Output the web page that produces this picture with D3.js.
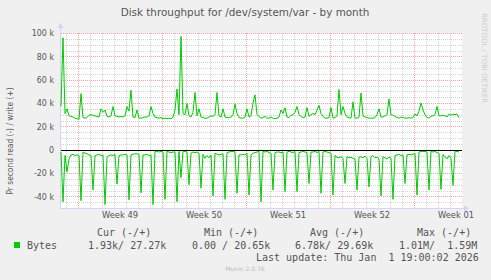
<!DOCTYPE html>
<html>
<head>
<meta charset="utf-8">
<script src="https://cdn.jsdelivr.net/npm/d3@7"></script>
<style>
body { margin: 0; background: #f0f0f0; }
svg { display: block; }
text { font-family: "DejaVu Sans", sans-serif; fill: #555; }
.mono { font-family: "DejaVu Sans Mono", monospace; font-size: 10px; white-space: pre; }
</style>
</head>
<body>
<svg id="chart" width="491" height="280"></svg>
<script>
const title = "Disk throughput for /dev/system/var - by month"
const yLabel = "Pr second read (-) / write (+)"

// one value every 4 hours, in k (bytes per second / 1000)
const startTime = new Date(Date.UTC(2025, 10, 29, 14))
const endTime = new Date(Date.UTC(2026, 0, 1, 22))
const stepHours = 4

const writeK = [
    37, 96, 31, 35, 29, 28.5, 28, 27, 26.5, 26,
    48, 27.5, 27, 27.5, 29.5, 30, 29.5, 29, 28.5, 28,
    35, 32, 34, 28.5, 28, 29, 37, 29, 28.5, 28,
    28.5, 28, 29, 37, 33, 51, 28, 27.5, 34, 27,
    27, 27.5, 28, 28, 29, 37, 31, 28, 27.5, 27,
    27.5, 26.5, 27, 26.5, 27, 26.5, 28, 34, 52, 30,
    97, 31, 30, 39.5, 29, 28, 32, 49, 29, 35,
    28, 27.5, 27, 27, 28, 29, 28.5, 30, 49, 29,
    28, 35, 28, 27.5, 27.5, 28, 30, 39, 31, 27.5,
    27, 27, 28, 35, 28, 29, 40, 47, 30, 28.5,
    27, 27.5, 28.5, 27, 27, 28, 27, 26.5, 27, 28,
    34, 31, 36, 28, 27.5, 29.5, 30, 32, 37, 30,
    28.5, 27.5, 28, 36, 28.5, 30, 31, 30, 34, 38,
    31, 28.5, 27, 27, 27.5, 36, 27, 27.5, 29, 51.5,
    30, 37, 31, 28, 27.5, 27, 41, 27, 27, 28,
    48.5, 29, 28, 27.5, 27, 27, 27, 27.5, 30, 35,
    28, 28, 29, 30, 43.5, 30, 29.5, 28.5, 27.5, 27,
    28, 27.5, 27, 27, 27.5, 27, 27.5, 30.5, 29, 33,
    40, 34, 30, 27.5, 27, 28.5, 29, 30, 37, 29,
    29, 29.5, 29, 28, 30.5, 29.5, 30.5, 30, 30.5, 27.3
]

const readK = [
    2, 44.6, 5, 19, 8, 4.5, 4, 5, 4.5, 5,
    43.7, 2, 3, 3.5, 4.5, 5, 34.6, 5, 4.5, 4,
    5, 4.5, 47, 6.5, 5, 4.5, 5, 4, 29.5, 5,
    4.5, 4.5, 4, 4.5, 43, 4.5, 4, 3.5, 3.5, 4,
    37, 4.5, 4.5, 4, 5, 4.5, 47, 1.5, 1.5, 2,
    1.5, 2, 42.6, 1.5, 2, 2.5, 2, 2, 44.6, 1.5,
    24, 1.5, 1.5, 2, 30, 3, 2, 2.5, 2, 3,
    33, 4, 7.5, 5, 7, 4.5, 39.6, 3, 4, 4.5,
    4, 3.5, 42.6, 2.5, 2, 1.5, 1.5, 2, 37.4, 4.5,
    4.5, 4, 4.5, 3, 38.9, 4.5, 3, 2.5, 2, 1.5,
    44.6, 1.5, 2, 1.5, 2.5, 3, 34.6, 2.5, 2, 2,
    2.5, 2, 36, 2, 1.5, 2, 2.5, 1.5, 36, 2.5,
    2, 1.5, 2, 2.5, 29, 2, 2, 1.5, 2.5, 1.5,
    37.4, 2, 1.5, 2, 2.5, 3, 38.9, 5, 6.5, 7,
    6, 7.5, 29, 6, 7, 6.5, 7.5, 8, 34.6, 6.5,
    6, 7, 5.5, 7.5, 32, 6, 5, 7, 6.5, 8,
    39.6, 6, 7, 8, 6.5, 7.5, 42.6, 5, 4.5, 4,
    5, 4.5, 29, 4.5, 4, 4.5, 4, 3, 38.9, 2,
    1.5, 1.5, 1.5, 2, 34.6, 1.5, 2, 1.5, 2.5, 3,
    34, 4, 6, 8, 5, 7.5, 30.6, 1.5, 1.5, 1.93
]

const yTicks = [-40, -20, 0, 20, 40, 60, 80, 100]
const yTickLabels = ["-40 k", "-20 k", "0", "20 k", "40 k", "60 k", "80 k", "100 k"]
const weekStarts = [new Date(Date.UTC(2025, 11, 1)), new Date(Date.UTC(2025, 11, 8)), new Date(Date.UTC(2025, 11, 15)),
    new Date(Date.UTC(2025, 11, 22)), new Date(Date.UTC(2025, 11, 29))]
const weekLabels = ["Week 49", "Week 50", "Week 51", "Week 52", "Week 01"]

const legendHeaders = ["Cur (-/+)", "Min (-/+)", "Avg (-/+)", "Max (-/+)"]
const legendValues = ["1.93k/ 27.27k", "0.00 / 20.65k", "6.78k/ 29.69k", "1.01M/  1.59M"]
const seriesName = "Bytes"
const lastUpdate = "Last update: Thu Jan  1 19:00:02 2026"
const footer = "Munin 2.0.76"

const svg = d3.select("#chart")
const plotLeft = 61, plotRight = 461, plotTop = 33, plotBottom = 208
const px = v => Math.round(v) + 0.5
const squeeze = 0.88 //rrdtool glyphs are narrower than the browser's

const x = d3.scaleUtc().domain([startTime, endTime]).range([plotLeft, plotRight])
const y = d3.scaleLinear().domain([-50, 100]).range([plotBottom, plotTop])
const timeAt = i => new Date(+startTime + i * stepHours * 3600e3)

svg.append("rect").attr("width", 491).attr("height", 280).attr("fill", "#f0f0f0")
svg.append("rect").attr("x", plotLeft).attr("y", plotTop).attr("width", plotRight - plotLeft + 1).attr("height", plotBottom - plotTop).attr("fill", "#fff")

//grid
const grid = svg.append("g").attr("stroke-dasharray", "1,1").attr("stroke-width", 1)
const minorY = d3.range(-45, 100, 5).filter(v => v % 20 !== 0)
grid.selectAll(".hminor").data(minorY).join("line")
    .attr("x1", plotLeft).attr("x2", plotRight + 1).attr("y1", d => px(y(d))).attr("y2", d => px(y(d)))
    .attr("stroke", "#d4d4d4")
const days = d3.utcDay.range(startTime, endTime).filter(d => d.getUTCDay() !== 1)
grid.selectAll(".vminor").data(days).join("line")
    .attr("x1", d => px(x(d))).attr("x2", d => px(x(d))).attr("y1", plotTop).attr("y2", plotBottom)
    .attr("stroke", "#d4d4d4")
grid.selectAll(".hmajor").data(yTicks).join("line")
    .attr("x1", plotLeft).attr("x2", plotRight + 1).attr("y1", d => px(y(d))).attr("y2", d => px(y(d)))
    .attr("stroke", "#f4a4a4")
grid.selectAll(".vmajor").data(weekStarts).join("line")
    .attr("x1", d => px(x(d))).attr("x2", d => px(x(d))).attr("y1", plotTop).attr("y2", plotBottom)
    .attr("stroke", "#f4a4a4")

//axes
const axisColor = "#cfd6f8"
svg.append("line").attr("x1", plotLeft - 0.5).attr("x2", plotLeft - 0.5).attr("y1", plotBottom + 1).attr("y2", 27).attr("stroke", axisColor)
svg.append("path").attr("d", `M${plotLeft - 3.5},28 L${plotLeft + 2.5},28 L${plotLeft - 0.5},23 Z`).attr("fill", axisColor)
svg.append("line").attr("x1", plotLeft - 1).attr("x2", plotRight + 4).attr("y1", plotBottom + 0.5).attr("y2", plotBottom + 0.5).attr("stroke", axisColor)
svg.append("path").attr("d", `M${plotRight + 3},${plotBottom - 2.5} L${plotRight + 3},${plotBottom + 3.5} L${plotRight + 8},${plotBottom + 0.5} Z`).attr("fill", axisColor)

svg.selectAll(".ylab").data(yTicks).join("text")
    .attr("transform", d => `translate(54,${y(d) + 3.3}) scale(${squeeze},1)`).attr("text-anchor", "end")
    .style("font-size", "9px")
    .text((d, i) => yTickLabels[i])

svg.selectAll(".xlab").data(weekStarts).join("text")
    .attr("transform", d => `translate(${x(d3.utcHour.offset(d, 84))},218) scale(${squeeze},1)`).attr("text-anchor", "middle")
    .style("font-size", "9.5px")
    .text((d, i) => weekLabels[i])

//data
const line = d3.line().x((d, i) => x(timeAt(i))).y(d => y(d))
svg.append("path").attr("d", line(writeK)).attr("fill", "none").attr("stroke", "#00cc00").attr("stroke-width", 1)
svg.append("path").attr("d", line(readK.map(v => -v))).attr("fill", "none").attr("stroke", "#00cc00").attr("stroke-width", 1)

svg.append("line").attr("x1", plotLeft).attr("x2", plotRight + 1).attr("y1", px(y(0))).attr("y2", px(y(0))).attr("stroke", "#000")

//texts
svg.append("text").attr("x", 245).attr("y", 16).attr("text-anchor", "middle").style("font-size", "10.4px").text(title)
svg.append("text").attr("transform", `translate(13,141) rotate(-90) scale(${squeeze},1)`).attr("text-anchor", "middle")
    .style("font-size", "8.5px").text(yLabel)
svg.append("text").attr("transform", "translate(482,13) rotate(90)").attr("text-anchor", "start")
    .style("font-size", "7px").style("fill", "#cdcdcd").text("RRDTOOL / TOBI OETIKER")

//legend
const headerX = [97, 204, 310, 417]
const valueX = [88, 192, 295, 399]
svg.selectAll(".lh").data(legendHeaders).join("text").attr("class", "mono")
    .attr("x", (d, i) => headerX[i]).attr("y", 236).text(d => d)
svg.append("rect").attr("x", 14).attr("y", 242).attr("width", 6).attr("height", 6).attr("fill", "#00cc00")
svg.append("text").attr("class", "mono").attr("x", 27).attr("y", 249).text(seriesName)
svg.selectAll(".lv").data(legendValues).join("text").attr("class", "mono")
    .attr("x", (d, i) => valueX[i]).attr("y", 249).text(d => d)
svg.append("text").attr("class", "mono").attr("x", 256).attr("y", 261).text(lastUpdate)
svg.append("text").attr("x", 245).attr("y", 271).attr("text-anchor", "middle")
    .style("font-size", "6px").style("fill", "#bbb").text(footer)
</script>
</body>
</html>
